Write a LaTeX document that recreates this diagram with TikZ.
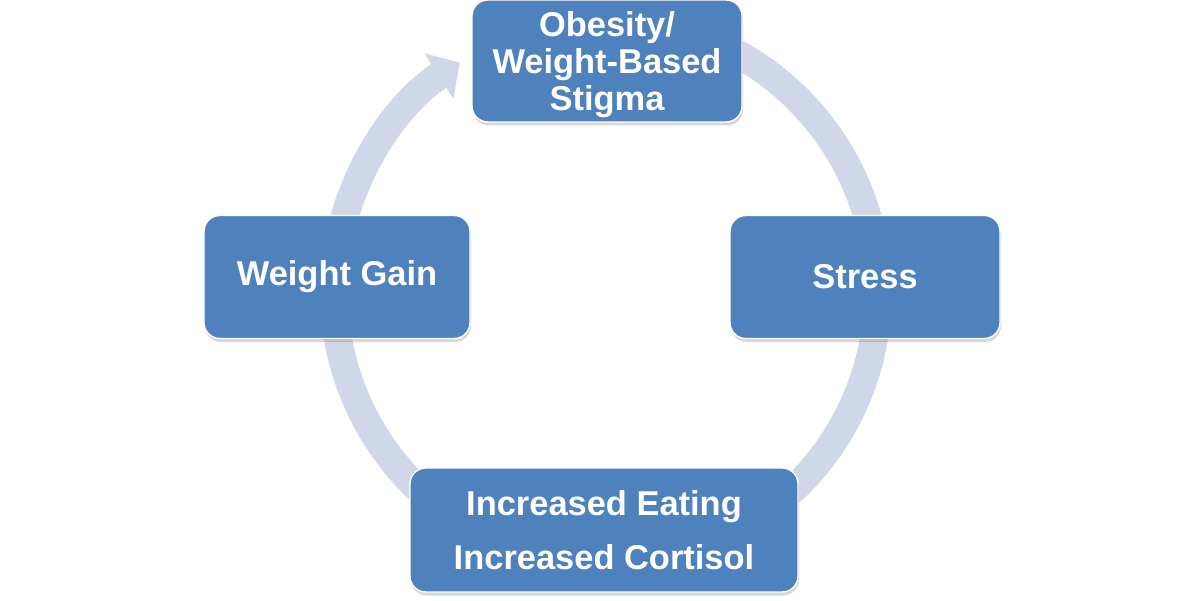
\documentclass[tikz,border=0pt]{standalone}
\usepackage{fontspec}
\setmainfont{Liberation Sans}
\usepackage{tikz}
\usetikzlibrary{arrows.meta, calc, positioning, shadows, backgrounds}
\definecolor{boxblue}{RGB}{79,129,189}
\definecolor{ringgray}{RGB}{207,215,232}

\begin{document}
\begin{tikzpicture}[
    card/.style={draw=white, line width=0.8pt, rounded corners=9pt, fill=boxblue, text=white,
        align=center, inner sep=0pt, font=\bfseries\fontsize{19.6}{20.8}\selectfont,
        drop shadow={shadow xshift=0.02cm, shadow yshift=-0.07cm, opacity=0.35, fill=black!45}},
    ring/.style={draw=ringgray, line width=0.56cm, -{Triangle[width=1.05cm, length=0.5cm]}}
]
    \useasboundingbox (0,0) rectangle (24,12);

    % four stages round the cycle
    \node[card, minimum width=5.4cm, minimum height=2.44cm, text depth=0pt] (stigma) at (12.14, 10.78)
    {Obesity/\\Weight-Based\\Stigma};
    \node[card, minimum width=5.4cm, minimum height=2.46cm] (stress) at (17.3, 6.46)
    {Stress};
    \node[card, minimum width=7.76cm, minimum height=2.48cm, font=\bfseries\fontsize{19.6}{31}\selectfont] (eating) at (12.08, 1.4)
    {Increased Eating\\Increased Cortisol};
    \node[card, minimum width=5.32cm, minimum height=2.46cm] (gain) at (6.74, 6.46)
    {Weight Gain};

    % ring arrow behind the boxes
    \coordinate (hub) at (12.12, 6.16);
    \begin{scope}[on background layer]
        \draw[ring] ([shift={(75:5.44)}]hub) arc[start angle=75, end angle=-237.5, radius=5.44];
    \end{scope}
\end{tikzpicture}
\end{document}
